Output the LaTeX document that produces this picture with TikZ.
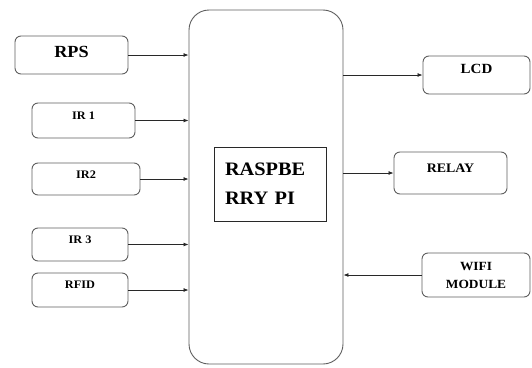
\documentclass[tikz,border=0pt]{standalone}
\usepackage{fontspec}
\setmainfont{Liberation Serif}[BoldFont={Liberation Serif Bold},FakeStretch=1.07]
\usetikzlibrary{arrows.meta}
\definecolor{boxColor}{RGB}{95,95,95}
\definecolor{lineColor}{RGB}{40,40,40}
\tikzset{
  blk/.style={draw=boxColor,line width=0.9pt,rounded corners=6pt,inner sep=0pt,
    font=\bfseries,align=center},
  sig/.style={draw=lineColor,line width=0.8pt,-{Latex[length=5pt,width=4pt]}}
}
\begin{document}
\begin{tikzpicture}[x=1pt,y=-1pt]
\path[use as bounding box,fill=white] (0,0) rectangle (532,367);

% controller
\node[blk,rounded corners=20pt,minimum width=154pt,minimum height=354pt] (pi) at (266,187) {};
\node[draw=lineColor,line width=0.8pt,minimum width=112pt,minimum height=74pt,inner sep=0pt,
  text width=90pt,align=left,font=\fontsize{19}{29}\selectfont\bfseries] (piname) at (270,184) {RASPBE\\RRY PI};

% inputs
\node[blk,minimum width=113pt,minimum height=38pt,text depth=6pt,font=\fontsize{17}{20}\selectfont\bfseries] (rps) at (71.5,55) {RPS};
\node[blk,minimum width=103pt,minimum height=35pt,text depth=9pt,font=\fontsize{11.5}{14}\selectfont\bfseries] (ir1) at (83.5,120.5) {IR 1};
\node[blk,minimum width=108pt,minimum height=32pt,text depth=8pt,font=\fontsize{11.5}{14}\selectfont\bfseries] (ir2) at (86,179) {IR2};
\node[blk,minimum width=96pt,minimum height=33pt,text depth=9pt,font=\fontsize{11.5}{14}\selectfont\bfseries] (ir3) at (80,244.5) {IR 3};
\node[blk,minimum width=96pt,minimum height=34pt,text depth=10pt,font=\fontsize{11.5}{14}\selectfont\bfseries] (rfid) at (80,290) {RFID};

% outputs
\node[blk,minimum width=107pt,minimum height=38pt,text depth=12pt,font=\fontsize{14}{16}\selectfont\bfseries] (lcd) at (476.5,75) {LCD};
\node[blk,minimum width=113pt,minimum height=42pt,text depth=10pt,font=\fontsize{13}{15}\selectfont\bfseries] (relay) at (450.5,173) {RELAY};
\node[blk,minimum width=108pt,minimum height=44pt,font=\fontsize{12.5}{18}\selectfont\bfseries] (wifi) at (476,275) {WIFI\\MODULE};

% connections
\foreach \n in {rps,ir1,ir2,ir3,rfid}
  \draw[sig] (\n.east) -- (\n.east -| pi.west);
\draw[sig] (lcd.west -| pi.east) -- (lcd.west);
\draw[sig] (relay.west -| pi.east) -- (relay.west);
\draw[sig] (wifi.west) -- (wifi.west -| pi.east);
\end{tikzpicture}
\end{document}
